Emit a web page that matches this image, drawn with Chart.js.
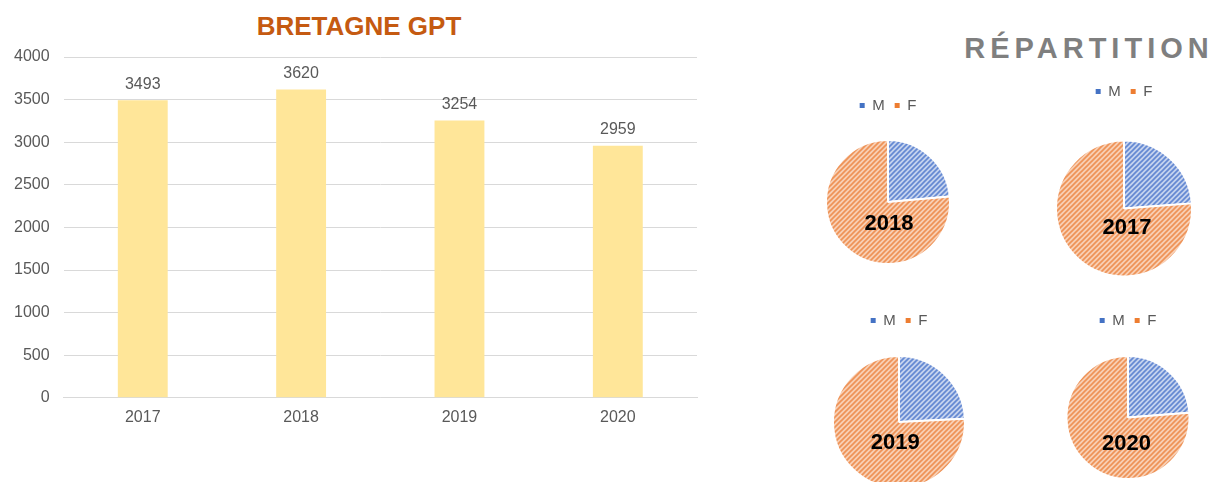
<!DOCTYPE html>
<html><head><meta charset="utf-8">
<script src="https://cdn.jsdelivr.net/npm/chart.js@4.4.0/dist/chart.umd.min.js"></script>
<style>
html,body{margin:0;padding:0;background:#fff;}
body{width:1212px;height:482px;overflow:hidden;position:relative;font-family:"Liberation Sans",Arial,sans-serif;}
canvas{position:absolute;}
.title{position:absolute;white-space:nowrap;font-weight:bold;transform:translate(-50%,-50%);}
#t1{left:359px;top:26px;font-size:26px;color:#C55A11;}
#t2{left:1089px;top:48px;font-size:29px;color:#7F7F7F;letter-spacing:5px;}
</style></head>
<body>
<div class="title" id="t1">BRETAGNE GPT</div>
<div class="title" id="t2">RÉPARTITION</div>
<canvas id="bar" width="720" height="440" style="left:0;top:0"></canvas>
<canvas id="p0"></canvas>
<canvas id="p1"></canvas>
<canvas id="p2"></canvas>
<canvas id="p3"></canvas>
<script>
// ---- data ----
const years = ['2017', '2018', '2019', '2020'];
const effectifs = [3493, 3620, 3254, 2959];
const yTicks = [0, 500, 1000, 1500, 2000, 2500, 3000, 3500, 4000];
const pieYears = ['2018', '2017', '2019', '2020'];
const sexLabels = ['M', 'F'];
const maleShare = [23.6, 23.8, 24.2, 23.8];
const femaleShare = [76.4, 76.2, 75.8, 76.2];

// ---- styles / layout ----
const FONT = '"Liberation Sans", Arial, sans-serif';
const TEXT = '#595959';
const pieLayout = [
  {cx: 887.5, cy: 202, r: 62, legendY: 105, dx: 1, dy: 21.5},
  {cx: 1123.7, cy: 209, r: 68, legendY: 91.7, dx: 3, dy: 19.5},
  {cx: 898.7, cy: 422, r: 66, legendY: 320, dx: -3.7, dy: 21.3},
  {cx: 1128.3, cy: 417.4, r: 61.5, legendY: 320, dx: -1.6, dy: 26}
];

// ---- bar chart ----
const barLabelPlugin = {
  id: 'barLabels',
  afterDatasetsDraw(chart) {
    const ctx = chart.ctx;
    const meta = chart.getDatasetMeta(0);
    ctx.save();
    ctx.font = '16px ' + FONT;
    ctx.fillStyle = TEXT;
    ctx.textAlign = 'center';
    ctx.textBaseline = 'middle';
    meta.data.forEach((el, i) => {
      ctx.fillText(String(chart.data.datasets[0].data[i]), el.x, el.y - 16);
    });
    ctx.restore();
  }
};

new Chart(document.getElementById('bar'), {
  type: 'bar',
  data: {
    labels: years,
    datasets: [{data: effectifs, backgroundColor: '#FFE699', categoryPercentage: 1, barPercentage: 0.315}]
  },
  options: {
    responsive: false, animation: false,
    layout: {padding: {left: 0, right: 23, top: 57, bottom: 3}},
    plugins: {legend: {display: false}, tooltip: {enabled: false}},
    scales: {
      x: {
        grid: {display: false, drawTicks: false},
        border: {display: true, color: '#D9D9D9'},
        ticks: {color: TEXT, font: {family: FONT, size: 16}, padding: 10}
      },
      y: {
        min: 0, max: 4000,
        afterBuildTicks: (s) => { s.ticks = yTicks.map(v => ({value: v})); },
        grid: {color: '#D9D9D9', drawTicks: false},
        border: {display: false},
        ticks: {color: TEXT, font: {family: FONT, size: 16}, padding: 14, callback: (v) => String(v)}
      }
    }
  },
  plugins: [barLabelPlugin]
});

// ---- pies ----
function hatch(bg, fg) {
  const s = 5;
  const c = document.createElement('canvas');
  c.width = c.height = s;
  const x = c.getContext('2d');
  x.fillStyle = bg; x.fillRect(0, 0, s, s);
  x.strokeStyle = fg; x.lineWidth = 1.6;
  x.beginPath();
  x.moveTo(-1, s + 1); x.lineTo(s + 1, -1);
  x.moveTo(-s - 1, s + 1); x.lineTo(1, -1);
  x.moveTo(-1, 2 * s + 1); x.lineTo(2 * s + 1, -1);
  x.stroke();
  return x.createPattern(c, 'repeat');
}
const blueHatch = hatch('#C4D2EE', '#6388D2');
const orangeHatch = hatch('#F8CFB3', '#EE9256');
const solid = ['#4472C4', '#ED7D31'];

const yearLabelPlugin = {
  id: 'yearLabel',
  afterDatasetsDraw(chart, args, opts) {
    const arc = chart.getDatasetMeta(0).data[0];
    const ctx = chart.ctx;
    ctx.save();
    ctx.font = 'bold 22px ' + FONT;
    ctx.fillStyle = '#000';
    ctx.textAlign = 'center';
    ctx.textBaseline = 'middle';
    ctx.fillText(opts.text, arc.x + opts.dx, arc.y + opts.dy);
    ctx.restore();
  }
};

pieYears.forEach((yr, i) => {
  const L = pieLayout[i];
  const W = 200;
  const T = L.legendY - 17.5;
  const H = Math.round(2 * (L.cy - T) - 36);
  const cv = document.getElementById('p' + i);
  cv.width = W; cv.height = H;
  cv.style.left = (L.cx - W / 2) + 'px';
  cv.style.top = T + 'px';
  new Chart(cv, {
    type: 'pie',
    data: {
      labels: sexLabels,
      datasets: [{
        data: [maleShare[i], femaleShare[i]],
        backgroundColor: [blueHatch, orangeHatch],
        borderColor: '#FFFFFF', borderWidth: 2,
        radius: L.r
      }]
    },
    options: {
      responsive: false, animation: false,
      layout: {padding: 0},
      plugins: {
        tooltip: {enabled: false},
        legend: {
          position: 'top',
          labels: {
            boxWidth: 5, boxHeight: 5, padding: 10,
            color: TEXT, font: {family: FONT, size: 15},
            generateLabels: (chart) => chart.data.labels.map((t, k) => ({
              text: t, fillStyle: solid[k], strokeStyle: solid[k], lineWidth: 0,
              hidden: false, index: k, fontColor: TEXT
            }))
          }
        },
        yearLabel: {text: yr, dx: L.dx, dy: L.dy}
      }
    },
    plugins: [yearLabelPlugin]
  });
});
</script>
</body></html>
